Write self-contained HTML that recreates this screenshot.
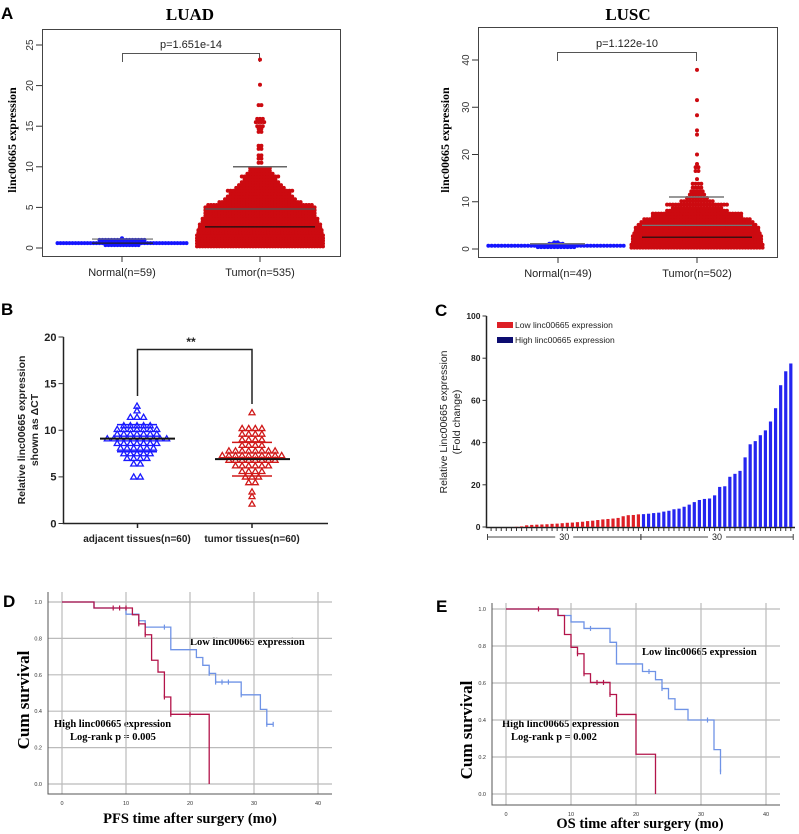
<!DOCTYPE html>
<html><head><meta charset="utf-8"><style>
html,body{margin:0;padding:0;background:#fff;}
svg{display:block;}
.sf{font-family:"Liberation Serif",serif;font-weight:bold;}
.ss{font-family:"Liberation Sans",sans-serif;}
</style></head><body>
<svg id="fig" width="799" height="834" viewBox="0 0 799 834" xmlns="http://www.w3.org/2000/svg">
<text x="1" y="19" class="ss" font-size="17" font-weight="bold">A</text>
<text x="1" y="315" class="ss" font-size="17" font-weight="bold">B</text>
<text x="435" y="316" class="ss" font-size="17" font-weight="bold">C</text>
<text x="3" y="607" class="ss" font-size="17" font-weight="bold">D</text>
<text x="436" y="612" class="ss" font-size="17" font-weight="bold">E</text>

<text x="190" y="20" class="sf" font-size="17" text-anchor="middle">LUAD</text>
<rect x="42.5" y="29.5" width="298" height="227" fill="none" stroke="#444"/>
<text transform="translate(16,140) rotate(-90)" class="sf" font-size="12" text-anchor="middle">linc00665 expression</text>
<text x="122" y="276" class="ss" font-size="11" text-anchor="middle" fill="#222">Normal(n=59)</text>
<text x="260" y="276" class="ss" font-size="11" text-anchor="middle" fill="#222">Tumor(n=535)</text>
<text x="191" y="48" class="ss" font-size="11" text-anchor="middle" fill="#222">p=1.651e-14</text>
<path d="M122.5,62 V53.5 H259.5 V62" fill="none" stroke="#555"/>

<text x="628" y="20" class="sf" font-size="17" text-anchor="middle">LUSC</text>
<rect x="478.5" y="27.5" width="299" height="230" fill="none" stroke="#444"/>
<text transform="translate(449,140) rotate(-90)" class="sf" font-size="12" text-anchor="middle">linc00665 expression</text>
<text x="558" y="277" class="ss" font-size="11" text-anchor="middle" fill="#222">Normal(n=49)</text>
<text x="697" y="277" class="ss" font-size="11" text-anchor="middle" fill="#222">Tumor(n=502)</text>
<text x="627" y="47" class="ss" font-size="11" text-anchor="middle" fill="#222">p=1.122e-10</text>
<path d="M557.5,61 V52.5 H696.5 V61" fill="none" stroke="#555"/>

<path d="M63.5,337 V523.5 H328" fill="none" stroke="#222" stroke-width="1.5"/>
<text transform="translate(25,430) rotate(-90)" class="ss" font-size="10.5" font-weight="bold" text-anchor="middle" fill="#222">Relative linc00665 expression</text>
<text transform="translate(38,430) rotate(-90)" class="ss" font-size="10.5" font-weight="bold" text-anchor="middle" fill="#222">shown as ΔCT</text>
<text x="137" y="542" class="ss" font-size="10" font-weight="bold" text-anchor="middle" fill="#222">adjacent tissues(n=60)</text>
<text x="252" y="542" class="ss" font-size="10" font-weight="bold" text-anchor="middle" fill="#222">tumor tissues(n=60)</text>
<path d="M137.5,396 V349.5 H252 V404" fill="none" stroke="#222" stroke-width="1.5"/>
<text x="191" y="346" class="ss" font-size="12" font-weight="bold" text-anchor="middle" fill="#222">**</text>

<path d="M486.5,316 V527.5 H795" fill="none" stroke="#222" stroke-width="1.5"/>
<text transform="translate(447,422) rotate(-90)" class="ss" font-size="10.5" text-anchor="middle" fill="#222">Relative Linc00665 expression</text>
<text transform="translate(460,422) rotate(-90)" class="ss" font-size="10.5" text-anchor="middle" fill="#222">(Fold change)</text>
<rect x="497" y="322" width="16" height="6" fill="#dd1f26"/>
<text x="515" y="328" class="ss" font-size="8.5" fill="#222">Low linc00665 expression</text>
<rect x="497" y="337" width="16" height="6" fill="#0c0c70"/>
<text x="515" y="343" class="ss" font-size="8.5" fill="#222">High linc00665 expression</text>

<text transform="translate(29,700) rotate(-90)" class="sf" font-size="17" text-anchor="middle">Cum survival</text>
<text x="190" y="823" class="sf" font-size="14.5" text-anchor="middle">PFS time after surgery (mo)</text>
<text x="190" y="645" class="sf" font-size="10.5">Low linc00665 expression</text>
<text x="54" y="727" class="sf" font-size="10.5">High linc00665 expression</text>
<text x="70" y="740" class="sf" font-size="10.5">Log-rank p = 0.005</text>

<text transform="translate(472,730) rotate(-90)" class="sf" font-size="17" text-anchor="middle">Cum survival</text>
<text x="640" y="828" class="sf" font-size="14.5" text-anchor="middle">OS time after surgery (mo)</text>
<text x="642" y="655" class="sf" font-size="10.5">Low linc00665 expression</text>
<text x="502" y="727" class="sf" font-size="10.5">High linc00665 expression</text>
<text x="511" y="740" class="sf" font-size="10.5">Log-rank p = 0.002</text>
</svg>
<script>
// ---------- DATA ----------
const luadTumorLevels = [0.2,0.55,0.9,1.2,1.55,1.9,2.2,2.55,2.9,3.25,3.6,3.95,4.3,4.65,5.0,5.3,5.65,6.0,6.35,6.7,7.05,7.4,7.75,8.1,8.45,8.8,9.15,9.5,9.85,10.5,11.0,11.4,12.2,12.6,14.3,14.7,15.0,15.5,15.9,17.6,20.1,23.2];
const luadTumorCounts = [46,46,46,46,46,45,45,44,44,42,42,40,40,40,40,38,30,26,24,22,24,18,16,14,12,14,10,8,8,2,2,2,2,2,2,2,3,4,3,2,1,1];
const luadNormalLevels = [0.35,0.6,1.0,1.2];
const luadNormalCounts = [12,44,16,1];
const luscTumorLevels = [0.3,0.9,1.5,2.1,2.7,3.3,3.9,4.5,5.1,5.7,6.3,6.9,7.5,8.1,8.7,9.4,10.1,10.8,11.5,12.2,13.0,13.8,14.8,16.5,17.3,18.0,20.0,24.2,25.1,28.3,31.5,37.9];
const luscTumorCounts = [47,47,46,46,46,45,44,44,42,40,38,32,32,22,18,22,12,8,6,5,4,4,1,2,2,1,1,1,1,1,1,1];
const luscNormalLevels = [0.4,0.7,1.1,1.4];
const luscNormalCounts = [12,42,5,2];
const adjLevels = [12.6,12.1,11.4,10.5,10.1,9.6,9.1,8.6,8.1,7.5,7.0,6.4,5.0];
const adjCounts = [1,1,3,5,7,7,10,7,6,5,4,2,2];
const tumLevels = [11.9,10.2,9.6,9.0,8.4,7.8,7.3,6.8,6.2,5.6,5.0,4.4,3.4,2.9,2.1];
const tumCounts = [1,4,4,4,4,8,10,8,6,4,3,2,1,1,1];
const adjStats = [7.7, 9.1, 10.6];
const tumStats = [5.1, 6.9, 8.7];
const bTicks = [0,5,10,15,20];
const lowValues = [0,0,0,0,0,0.1,0.3,0.8,1.0,1.1,1.2,1.3,1.5,1.6,1.8,2.0,2.1,2.3,2.5,2.8,3.0,3.3,3.6,3.8,4.0,4.3,5.1,5.6,5.7,6.0];
const highValues = [6.1,6.3,6.6,6.8,7.3,7.7,8.4,8.7,9.6,10.6,11.8,12.8,13.3,13.5,15.0,19.0,19.3,23.8,25.2,26.6,33.0,39.2,40.7,43.5,45.8,50.0,56.3,67.2,73.8,77.5];
const cTicks = [0,20,40,60,80,100];
const dHighT = [0,5,11,12,13,14,15,16,17,23];
const dHighS = [1,0.967,0.93,0.88,0.82,0.68,0.615,0.478,0.383,0];
const dHighCensT = [8,9,10,12,13,16,17,20];
const dHighCensS = [0.967,0.967,0.967,0.88,0.82,0.478,0.383,0.383];
const dLowT = [0,5,10,12,13,17,21,22,23,24,28,31,32,33];
const dLowS = [1,0.967,0.933,0.897,0.862,0.738,0.695,0.652,0.608,0.56,0.49,0.41,0.328,0.328];
const dLowCensT = [16,23,24,25,26,28,32,33];
const dLowCensS = [0.862,0.608,0.56,0.56,0.56,0.49,0.328,0.328];
const eHighT = [0,8,9,10,11,12,13,16,17,20,23];
const eHighS = [1,0.965,0.862,0.793,0.758,0.65,0.603,0.538,0.43,0.215,0];
const eHighCensT = [5,11,12,14,15,16,17];
const eHighCensS = [1,0.758,0.65,0.603,0.603,0.538,0.43];
const eLowT = [0,8,10,12,16,17,21,23,24,25,26,28,32,33];
const eLowS = [1,0.965,0.93,0.895,0.82,0.703,0.662,0.618,0.57,0.515,0.457,0.40,0.24,0.12];
const eLowCensT = [13,22,24,31,33];
const eLowCensS = [0.895,0.662,0.57,0.40,0.12];
const kmXTicks = [0,10,20,30,40];
const kmYTicks = [0,0.2,0.4,0.6,0.8,1.0];
const luadTicks = [0,5,10,15,20,25];
const luscTicks = [0,10,20,30,40];

// ---------- DRAW ----------
const NS = 'http://www.w3.org/2000/svg';
const svg = document.getElementById('fig');
function mk(tag, attrs){ const e = document.createElementNS(NS, tag); for (const k in attrs) e.setAttribute(k, attrs[k]); svg.appendChild(e); return e; }
function lin(d0,d1,r0,r1){ return v => r0 + (v-d0)*(r1-r0)/(d1-d0); }

function swarm(levels, counts, cx, y, sp, color, name){
  levels.forEach((v,r)=>{
    const n = counts[r];
    for(let i=0;i<n;i++){
      const c = mk('circle',{cx: cx + (i-(n-1)/2)*sp, cy: y(v), r: 2.0, fill: color});
      
      
    }
  });
}
function hline(x1,x2,yy,stroke,w,name){
  const l = mk('line',{x1:x1,x2:x2,y1:yy,y2:yy,stroke:stroke,'stroke-width':w});
  
  
  return l;
}
function yTicks(ticks, y, x, len, rot, fs, name, bold){
  ticks.forEach(t=>{
    const l = mk('line',{x1:x-len,x2:x,y1:y(t),y2:y(t),stroke:'#333'});
    
    
    const tx = mk('text', rot ? {transform:`translate(${x-len-3},${y(t)}) rotate(-90)`, 'text-anchor':'middle', 'font-size':fs, 'font-family':'Liberation Sans, sans-serif', fill:'#333'}
      : {x:x-len-2, y:y(t)+fs*0.35, 'text-anchor':'end', 'font-size':fs, 'font-family':'Liberation Sans, sans-serif', 'font-weight': bold?'bold':'normal', fill:'#222'});
    tx.textContent = t;
    
    
  });
}

// LUAD
const yA = lin(0,25,248,45);
yTicks(luadTicks, yA, 42, 6, true, 10, 'luad-y');
[122,260].forEach(x=>{ const l=mk('line',{x1:x,x2:x,y1:256,y2:262,stroke:'#333'});   });
swarm(luadNormalLevels, luadNormalCounts, 122, yA, 3.0, '#1515ff', 'luad-normal-dot');
swarm(luadTumorLevels, luadTumorCounts, 260, yA, 2.8, '#cc0a10', 'luad-tumor-dot');
hline(92,153,yA(1.1),'#666',1.2,'luad-normal-sd-line');
hline(92,153,yA(0.6),'#222',1.2,'luad-normal-mean-line');
hline(233,287,yA(10),'#666',1.5,'luad-tumor-upper-line');
hline(205,315,yA(4.8),'#555',1.2,'luad-tumor-box-line');
hline(205,315,yA(2.6),'#111',1.2,'luad-tumor-mean-line');

// LUSC
const yL = lin(0,40,249,60);
yTicks(luscTicks, yL, 478, 6, true, 10, 'lusc-y');
[558,697].forEach(x=>{ const l=mk('line',{x1:x,x2:x,y1:257,y2:263,stroke:'#333'});   });
swarm(luscNormalLevels, luscNormalCounts, 556, yL, 3.3, '#1515ff', 'lusc-normal-dot');
swarm(luscTumorLevels, luscTumorCounts, 697, yL, 2.85, '#cc0a10', 'lusc-tumor-dot');
hline(530,585,yL(1.1),'#777',1.5,'lusc-normal-sd-line');
hline(669,724,yL(11),'#777',1.5,'lusc-tumor-upper-line');
hline(642,752,yL(5),'#777',1.2,'lusc-tumor-box-line');
hline(642,752,yL(2.5),'#111',1.2,'lusc-tumor-mean-line');

// Panel B
const yB = lin(0,20,523.5,337);
yTicks(bTicks, yB, 63.5, 5, false, 11, 'b-y', true);
[137.5,252].forEach(x=>{ const l=mk('line',{x1:x,x2:x,y1:523.5,y2:528,stroke:'#222','stroke-width':1.5});   });
function tri(levels, counts, cx, color, name){
  levels.forEach((v,r)=>{
    const n=counts[r];
    for(let i=0;i<n;i++){
      const x=cx+(i-(n-1)/2)*6.6, yy=yB(v);
      const p=mk('path',{d:`M${x},${yy-3} L${x+3},${yy+2.2} L${x-3},${yy+2.2} Z`, fill:'none', stroke:color, 'stroke-width':1.3});
      
      
    }
  });
}
tri(adjLevels, adjCounts, 137, '#1a1aff', 'b-adjacent-point');
tri(tumLevels, tumCounts, 252, '#d01818', 'b-tumor-point');
hline(117,157,yB(adjStats[0]),'#1a1aff',1.5,'b-adjacent-sd-lower');
hline(117,157,yB(adjStats[2]),'#1a1aff',1.5,'b-adjacent-sd-upper');
hline(100,175,yB(adjStats[1]),'#111',2,'b-adjacent-mean');
hline(232,272,yB(tumStats[0]),'#d01818',1.5,'b-tumor-sd-lower');
hline(232,272,yB(tumStats[2]),'#d01818',1.5,'b-tumor-sd-upper');
hline(215,290,yB(tumStats[1]),'#111',2,'b-tumor-mean');

// Panel C
const yC = lin(0,100,527,316);
yTicks(cTicks, yC, 486.5, 4, false, 8.5, 'c-y', true);
const allBars = lowValues.concat(highValues);
const bx = i => 489.5 + i*5.08;
allBars.forEach((v,i)=>{
  const low = i < lowValues.length;
  const b = mk('rect',{x:bx(i), y:yC(v), width:3.2, height:Math.max(0,yC(0)-yC(v)), fill: low ? '#dd1f26' : '#2424f0'});
  
  
  const t = mk('line',{x1:bx(i)+1.6,x2:bx(i)+1.6,y1:528,y2:531,stroke:'#333'});
  
  
});
const gx0 = bx(0)-2, gx1 = bx(lowValues.length)-1, gx2 = bx(allBars.length-1)+4;
[[gx0,gx1,'c-group-low'],[gx1,gx2,'c-group-high']].forEach(g=>{
  const cx=(g[0]+g[1])/2;
  const l1=mk('path',{d:`M${g[0]},534 V540 M${g[0]},537 H${cx-9} M${cx+9},537 H${g[1]} M${g[1]},534 V540`, stroke:'#444', fill:'none'});
  
  
  const t=mk('text',{x:cx,y:540,'text-anchor':'middle','font-size':9,'font-family':'Liberation Sans, sans-serif',fill:'#222'});
  t.textContent='30';
  
  
});

// KM panels
function km(cfg){
  const x = lin(0,40,cfg.x0,cfg.x40), y = lin(0,1,cfg.y0,cfg.y1);
  kmXTicks.forEach(t=>{
    const g=mk('line',{x1:x(t),x2:x(t),y1:cfg.top,y2:cfg.axisY,stroke:'#bbb','stroke-width':1.2});
    
    
    const tx=mk('text',{x:x(t),y:cfg.axisY+11,'text-anchor':'middle','font-size':5.5,'font-family':'Liberation Sans, sans-serif',fill:'#333'});
    tx.textContent=t;
    
    
  });
  kmYTicks.forEach(t=>{
    const g=mk('line',{x1:cfg.axisX,x2:cfg.right,y1:y(t),y2:y(t),stroke:'#bbb','stroke-width':1.2});
    
    
    const tx=mk('text',{x:cfg.axisX-6,y:y(t)+2,'text-anchor':'end','font-size':5.5,'font-family':'Liberation Sans, sans-serif',fill:'#333'});
    tx.textContent=t.toFixed(1);
    
    
  });
  const ax=mk('path',{d:`M${cfg.axisX},${cfg.top} V${cfg.axisY} H${cfg.right}`,fill:'none',stroke:'#555'});
  
  
  function curve(T,S,CT,CS,color,name){
    let d=`M${x(T[0])},${y(S[0])}`;
    for(let i=1;i<T.length;i++){ d+=` H${x(T[i])} V${y(S[i])}`; }
    const p=mk('path',{d:d,fill:'none',stroke:color,'stroke-width':1.3});
    
    
    CT.forEach((t,i)=>{
      const c=mk('path',{d:`M${x(t)},${y(CS[i])-2.5} V${y(CS[i])+2.5}`,stroke:color,'stroke-width':1.2});
      
      
    });
  }
  curve(cfg.lt,cfg.ls,cfg.lct,cfg.lcs,'#6f93e6',cfg.p+'-low');
  curve(cfg.ht,cfg.hs,cfg.hct,cfg.hcs,'#b3144a',cfg.p+'-high');
}
km({p:'d',x0:62,x40:318,y0:784,y1:602,axisX:48,axisY:794,top:592,right:332,
  ht:dHighT,hs:dHighS,hct:dHighCensT,hcs:dHighCensS,lt:dLowT,ls:dLowS,lct:dLowCensT,lcs:dLowCensS});
km({p:'e',x0:506,x40:766,y0:794,y1:609,axisX:492,axisY:805,top:603,right:780,
  ht:eHighT,hs:eHighS,hct:eHighCensT,hcs:eHighCensS,lt:eLowT,ls:eLowS,lct:eLowCensT,lcs:eLowCensS});
</script>
</body></html>
